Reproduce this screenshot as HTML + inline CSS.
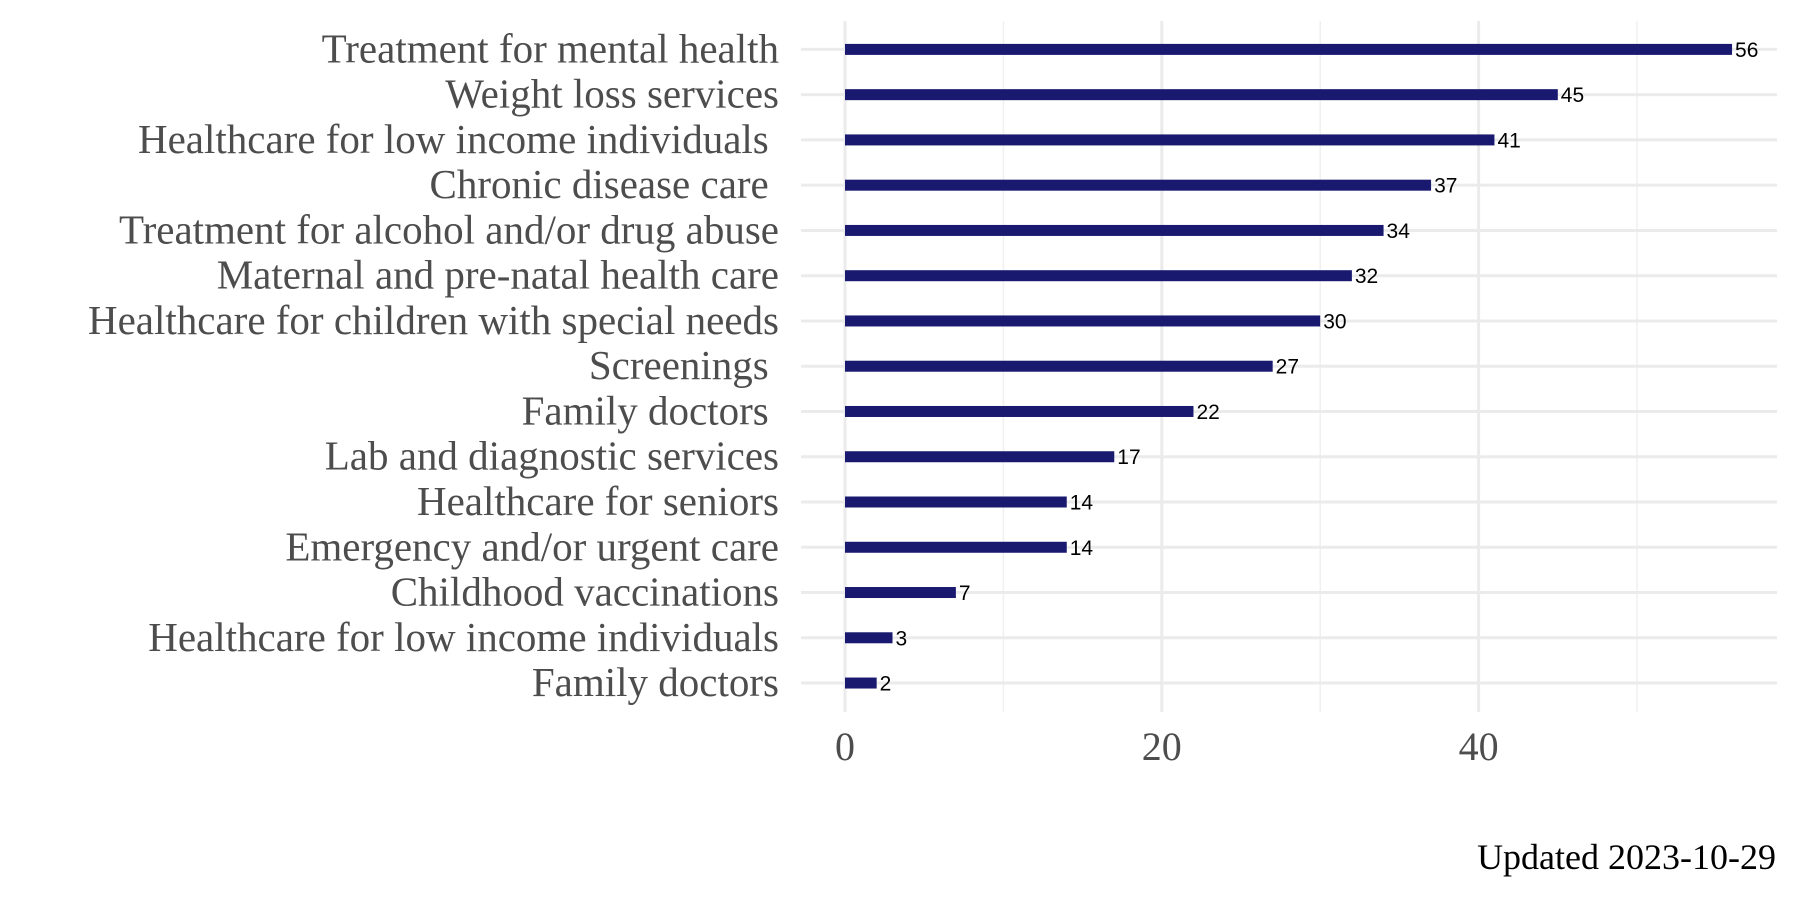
<!DOCTYPE html>
<html><head><meta charset="utf-8"><style>
html,body{margin:0;padding:0;background:#fff;}
svg{display:block;}
text{white-space:pre;}
</style></head><body>
<svg id="chart" width="1800" height="900" xmlns="http://www.w3.org/2000/svg"></svg>
<script>
const categories = ["Treatment for mental health","Weight loss services","Healthcare for low income individuals ","Chronic disease care ","Treatment for alcohol and/or drug abuse","Maternal and pre-natal health care","Healthcare for children with special needs","Screenings ","Family doctors ","Lab and diagnostic services","Healthcare for seniors","Emergency and/or urgent care","Childhood vaccinations","Healthcare for low income individuals","Family doctors"];
const values = [56,45,41,37,34,32,30,27,22,17,14,14,7,3,2];
const majorTicks = [0,20,40];
const minorTicks = [10,30,50];

const svg = document.getElementById('chart');
const NS = 'http://www.w3.org/2000/svg';
const x0 = 845, pxPerUnit = 15.84, plotRight = 1777, gridLeft = 801;
const yFirst = 49.4, rowStep = 45.26;
const xs = v => x0 + v * pxPerUnit;
const ys = i => yFirst + i * rowStep;
function mk(tag, attrs){const e=document.createElementNS(NS,tag);for(const k in attrs)e.setAttribute(k,attrs[k]);svg.appendChild(e);return e;}

minorTicks.forEach(t=>{
  const l=mk('line',{x1:xs(t),x2:xs(t),y1:21,y2:712,stroke:'#f0f0f0','stroke-width':1.5});
  
  
});
majorTicks.forEach(t=>{
  const l=mk('line',{x1:xs(t),x2:xs(t),y1:21,y2:712,stroke:'#ebebeb','stroke-width':3});
  
  
  const tx=mk('text',{x:xs(t),y:760,'text-anchor':'middle','font-family':'Liberation Serif, serif','font-size':40,fill:'#4d4d4d'});
  tx.textContent=t;
  
  
});
categories.forEach((c,i)=>{
  const y=ys(i);
  const g=mk('line',{x1:gridLeft,x2:plotRight,y1:y,y2:y,stroke:'#ebebeb','stroke-width':3});
  
  
  const lab=mk('text',{x:779,y:y+13,'text-anchor':'end','font-family':'Liberation Serif, serif','font-size':41,fill:'#4d4d4d'});
  lab.textContent=c;
  
  
  const b=mk('rect',{x:xs(0),y:y-5.5,width:xs(values[i])-xs(0),height:11,fill:'#191970'});
  
  
  const v=mk('text',{x:xs(values[i])+3,y:y+7.5,'font-family':'Liberation Sans, sans-serif','font-size':21,fill:'#000'});
  v.textContent=values[i];
  
  
});
const u=mk('text',{x:1776,y:869,'text-anchor':'end','font-family':'Liberation Serif, serif','font-size':36,fill:'#000'});
u.textContent='Updated 2023-10-29';


</script>
</body></html>
